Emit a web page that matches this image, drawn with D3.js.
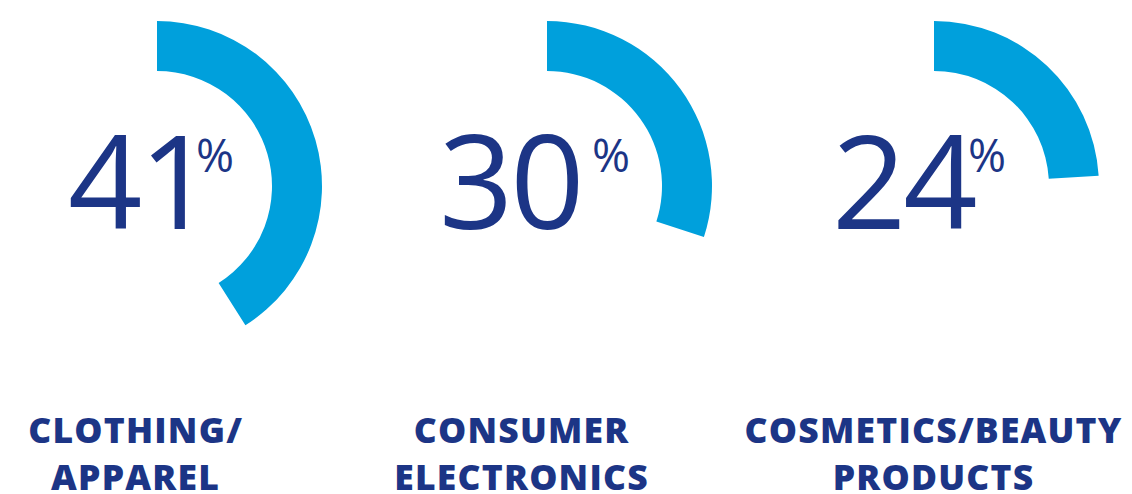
<!DOCTYPE html>
<html><head><meta charset="utf-8">
<script src="https://cdn.jsdelivr.net/npm/d3@7"></script>
<style>html,body{margin:0;padding:0;background:#fff;}svg{display:block;}</style>
</head><body>
<svg id="chart" width="1132" height="494"></svg>
<script>
// ---- data ----
const categories = ["CLOTHING/|APPAREL", "CONSUMER|ELECTRONICS", "COSMETICS/BEAUTY|PRODUCTS"];
const values = [41, 30, 24];
const valueLabels = ["41", "30", "24"];

// ---- layout ----
const W = 1132, H = 494;
const arcCX = [157, 547, 934];
const arcCY = 186;
const numLeft = [68, 439, 832];
const pctX = [196, 592, 968];
const labelCX = [135, 521, 933];
const outerR = 165, innerR = 115;
const arcColor = "#00A0DC", textColor = "#1C3586";

const svg = d3.select("#chart");
const angle = d3.scaleLinear().domain([0, 100]).range([0, 2 * Math.PI]);
const arc = d3.arc().innerRadius(innerR).outerRadius(outerR).startAngle(0);

values.forEach((v, i) => {
  const g = svg.append("g");
  g.append("path")
    .attr("transform", `translate(${arcCX[i]},${arcCY})`)
    .attr("d", arc({endAngle: angle(v)}))
    .attr("fill", arcColor);

  g.append("text")
    .attr("x", numLeft[i]).attr("y", 229)
    .attr("font-family", "'Open Sans', sans-serif")
    .attr("font-size", 130)
    .attr("font-weight", 500)
    .attr("letter-spacing", -3)
    .attr("fill", textColor)
    .text(valueLabels[i]);

  g.append("text")
    .attr("x", pctX[i]).attr("y", 172)
    .attr("font-family", "'Open Sans', sans-serif")
    .attr("font-size", 46)
    .attr("font-weight", 500)
    .attr("fill", textColor)
    .text("%");

  const lines = categories[i].split("|");
  lines.forEach((ln, j) => {
    g.append("text")
      .attr("x", labelCX[i] + 0.6).attr("y", 443 + j * 47)
      .attr("text-anchor", "middle")
      .attr("font-family", "'Open Sans', sans-serif")
      .attr("font-size", 35.5)
      .attr("font-weight", 800)
      .attr("letter-spacing", 1.2)
      .attr("fill", textColor)
      .text(ln);
  });
});
</script>
</body></html>
